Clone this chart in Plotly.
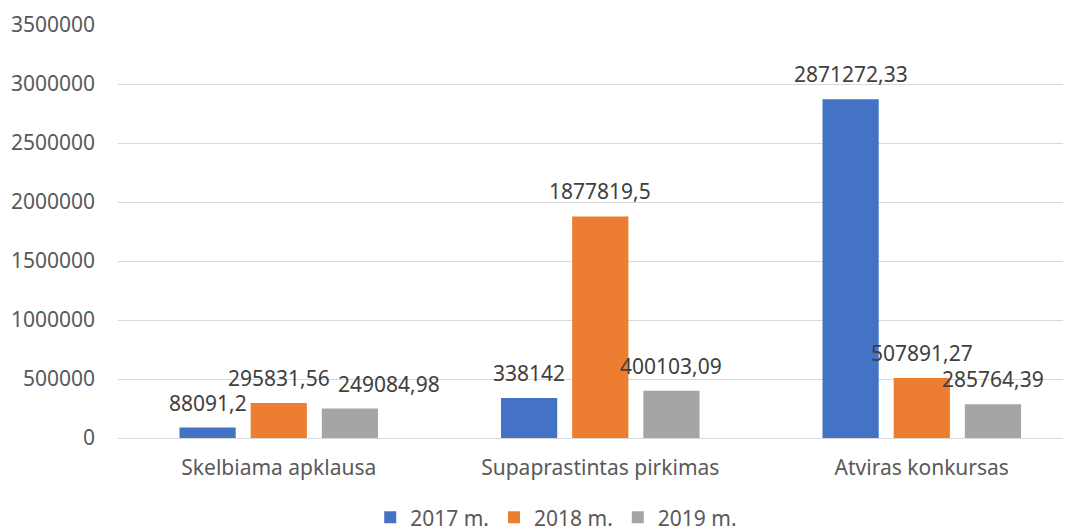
import plotly.graph_objects as go

# data
categories = ["Skelbiama apklausa", "Supaprastintas pirkimas", "Atviras konkursas"]
series_names = ["2017 m.", "2018 m.", "2019 m."]
values_2017 = [88091.2, 338142, 2871272.33]
values_2018 = [295831.56, 1877819.5, 507891.27]
values_2019 = [249084.98, 400103.09, 285764.39]

colors = ["#4472C4", "#ED7D31", "#A5A5A5"]
all_values = [values_2017, values_2018, values_2019]

bargap = 0.336
font_family = "Noto Sans"


def fmt(v):
    # Lithuanian decimal comma, no trailing zeros
    s = ("%.2f" % v).rstrip("0").rstrip(".")
    return s.replace(".", ",")


fig = go.Figure()
for name, vals, col in zip(series_names, all_values, colors):
    fig.add_trace(go.Bar(x=categories, y=vals, name=name, marker_color=col,
                         marker_line_width=0, hoverinfo="skip"))

# data labels, Excel style (one is nudged right to avoid an overlap)
slot = (1 - bargap) / len(series_names)
nudge = {(2, 0): 39}
for i, vals in enumerate(all_values):
    for j, v in enumerate(vals):
        fig.add_annotation(x=j + (i - 1) * slot, y=v, text=fmt(v), showarrow=False,
                           xref="x", yref="y", yanchor="middle", yshift=25,
                           xshift=nudge.get((i, j), 0),
                           font=dict(family=font_family, size=21, color="#404040"))

# page body has an 8px margin, so the margins are trimmed by that amount
fig.update_layout(
    width=1071, height=531,
    margin=dict(l=110, r=0, t=17, b=101, autoexpand=False),
    paper_bgcolor="white", plot_bgcolor="white",
    barmode="group", bargap=bargap, bargroupgap=0.21,
    font=dict(family=font_family, size=21, color="#595959"),
    showlegend=True,
    legend=dict(orientation="h", x=0.456, xanchor="center", y=-0.193, yanchor="middle",
                font=dict(size=21, color="#595959"), itemclick=False),
)
fig.update_xaxes(range=[-0.5, 2.489], showgrid=False, showline=False,
                 ticks="", ticklabelstandoff=15)
fig.update_yaxes(range=[0, 3500000], dtick=500000, tickformat="d",
                 showgrid=True, gridcolor="#D9D9D9", gridwidth=1,
                 zeroline=True, zerolinecolor="#D9D9D9", zerolinewidth=1,
                 showline=False, ticks="", ticklabelstandoff=22)

fig.write_html("out.html")
